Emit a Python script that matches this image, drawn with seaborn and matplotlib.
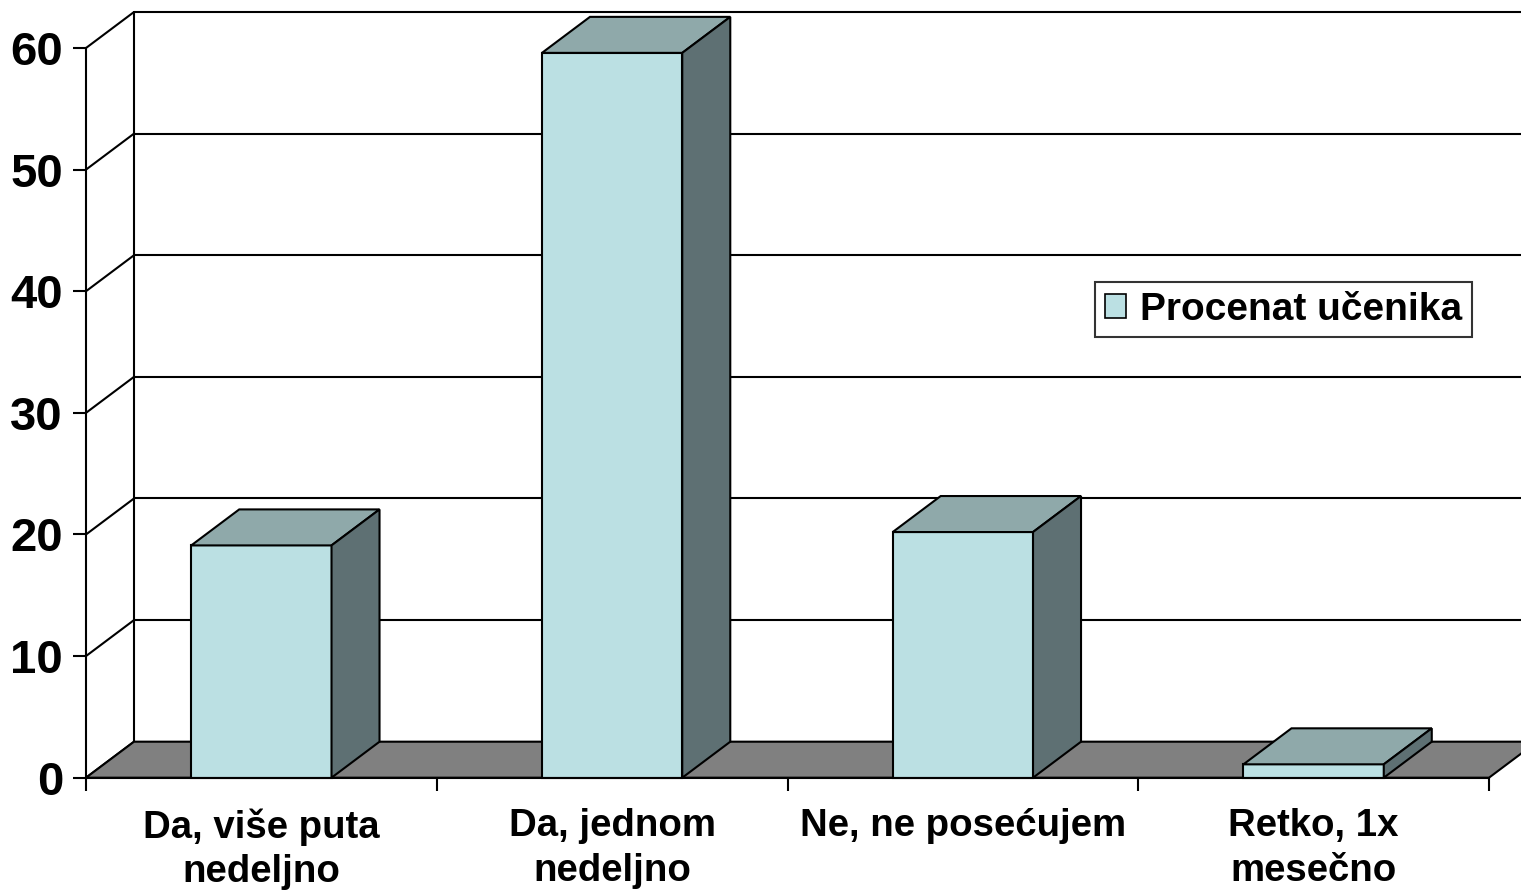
import numpy as np
import pandas as pd
import matplotlib
matplotlib.use("Agg")
import matplotlib.pyplot as plt
from matplotlib.patches import Polygon, Patch
import seaborn as sns

# podaci
kategorije = ["Da, više puta\nnedeljno", "Da, jednom\nnedeljno",
              "Ne, ne posećujem", "Retko, 1x\nmesečno"]
vrednosti = [19.1, 59.6, 20.2, 1.1]
serija = "Procenat učenika"
y_podeoci = [0, 10, 20, 30, 40, 50, 60]

# boje (Excel 3D stil)
c_front = "#BBE0E3"
c_top = "#8FA9AA"
c_side = "#5E7073"
c_floor = "#808080"

sns.set_theme(style="white")
plt.rcParams["font.family"] = ["Liberation Sans", "DejaVu Sans"]
plt.rcParams["font.weight"] = "bold"
plt.rcParams["text.color"] = "black"

W, H = 1521, 892
fig = plt.figure(figsize=(W / 100, H / 100), dpi=100)
x0_px, x1_px = 86, 1489
y0_px, y1_px = 777.7, 48
ax = fig.add_axes([x0_px / W, 1 - y0_px / H, (x1_px - x0_px) / W, (y0_px - y1_px) / H])
ax.patch.set_alpha(0)

df = pd.DataFrame({"kategorija": kategorije, "procenat": vrednosti})
sns.barplot(data=df, x="kategorija", y="procenat", color=c_front, saturation=1,
            width=0.4, edgecolor="black", linewidth=1.5, ax=ax)

ax.set_xlim(-0.5, len(kategorije) - 0.5)
ax.set_ylim(0, 60)

# dubina (pomeraj zadnjeg zida) u jedinicama podataka
dx = 48 / ((x1_px - x0_px) / len(kategorije))
dy = 36 / ((y0_px - y1_px) / 60)
xl, xr = -0.5, len(kategorije) - 0.5

# zadnji zid i linije mreže
for t in y_podeoci:
    ax.plot([xl + dx, xr + dx + 1], [t + dy, t + dy], color="black", lw=1.5,
            clip_on=False, zorder=1)
    ax.plot([xl, xl + dx], [t, t + dy], color="black", lw=1.5, clip_on=False, zorder=1)
ax.plot([xl + dx, xl + dx], [dy, 60 + dy], color="black", lw=1.5, clip_on=False, zorder=1)

# pod
floor = Polygon([(xl, 0), (xr, 0), (xr + dx, dy), (xl + dx, dy)], closed=True,
                facecolor=c_floor, edgecolor="black", lw=1.5, clip_on=False, zorder=2)
ax.add_patch(floor)

# 3D stubici: gornja i bočna strana
bars = [p for p in ax.patches if p is not floor]
for p in bars:
    p.set_zorder(5)
    p.set_clip_on(False)
    bx, bw, bh = p.get_x(), p.get_width(), p.get_height()
    top = Polygon([(bx, bh), (bx + bw, bh), (bx + bw + dx, bh + dy), (bx + dx, bh + dy)],
                  closed=True, facecolor=c_top, edgecolor="black", lw=1.5,
                  clip_on=False, zorder=5)
    side = Polygon([(bx + bw, 0), (bx + bw + dx, dy), (bx + bw + dx, bh + dy), (bx + bw, bh)],
                   closed=True, facecolor=c_side, edgecolor="black", lw=1.5,
                   clip_on=False, zorder=5)
    ax.add_patch(top)
    ax.add_patch(side)

# ose
for s in ["top", "right"]:
    ax.spines[s].set_visible(False)
for s in ["left", "bottom"]:
    ax.spines[s].set_color("black")
    ax.spines[s].set_linewidth(1.5)
    ax.spines[s].set_zorder(6)

ax.set_yticks(y_podeoci)
ax.set_yticklabels([str(t) for t in y_podeoci], fontsize=34, fontweight="bold")
ax.tick_params(axis="y", direction="out", length=9.5, width=1.5, pad=7, colors="black",
               left=True)
ax.set_xticks(range(len(kategorije)))
ax.set_xticklabels(kategorije, fontsize=27.6, fontweight="bold", linespacing=1.3)
ax.set_xticks(np.arange(len(kategorije) + 1) - 0.5, minor=True)
ax.tick_params(axis="x", which="major", length=0, pad=22, colors="black")
ax.tick_params(axis="x", which="minor", direction="out", length=9, width=1.5,
               color="black", bottom=True)
ax.set_xlabel("")
ax.set_ylabel("")

handle = Patch(facecolor=c_front, edgecolor="black", lw=1.2)
leg = fig.legend([handle], [serija], loc="upper left",
                 bbox_to_anchor=(1095 / W, 1 - 282 / H), frameon=True, fancybox=False,
                 prop={"size": 28, "weight": "bold"}, handlelength=0.55, handleheight=0.55,
                 handletextpad=0.35, borderpad=0.25, borderaxespad=0,
                 labelcolor="black")
leg.get_frame().set_edgecolor("black")
leg.get_frame().set_linewidth(1.5)

fig.savefig("out.png", dpi=100)
